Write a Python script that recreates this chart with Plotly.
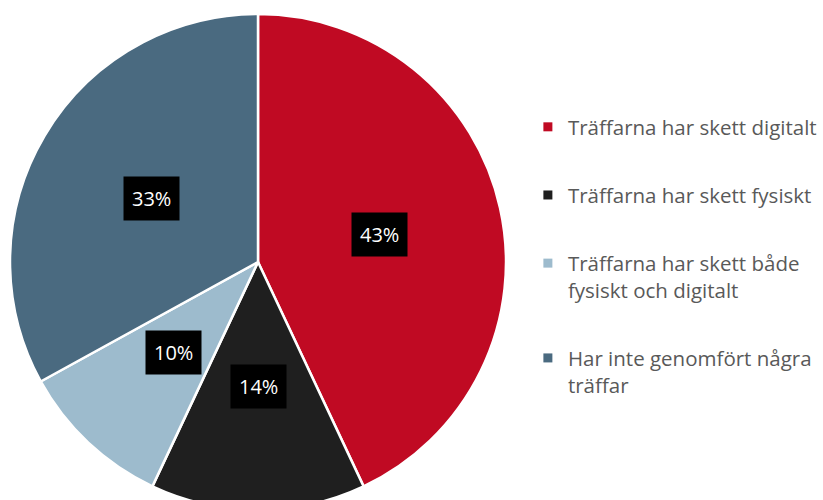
import math
import plotly.graph_objects as go

labels = [
    "Träffarna har skett digitalt",
    "Träffarna har skett fysiskt",
    "Träffarna har skett både<br>fysiskt och digitalt",
    "Har inte genomfört några<br>träffar",
]
values = [43, 14, 10, 33]
colors = ["#C00A23", "#1F1F1F", "#9DBBCD", "#4A6A80"]

W, H = 823, 510
ml, mr, mt, mb = 10, 0, 14, 0
plot_w = W - ml - mr
plot_h = H - mt - mb
dom_x = [0.0, 496 / plot_w]

fig = go.Figure()
fig.add_trace(go.Pie(
    labels=labels,
    values=values,
    sort=False,
    direction="clockwise",
    rotation=0,
    marker=dict(colors=colors, line=dict(color="white", width=2.5)),
    textinfo="none",
    hoverinfo="none",
    domain=dict(x=dom_x, y=[0, 1]),
    showlegend=False,
))

# legend entries (square markers), one group per category for spacing control
for i, (lab, col) in enumerate(zip(labels, colors)):
    fig.add_trace(go.Scatter(
        x=[None], y=[None], mode="markers", name=lab,
        legendgroup=f"g{i}",
        marker=dict(symbol="square", size=9, color=col),
        hoverinfo="skip",
    ))

# percent labels with black boxes, placed at mid-angle of each slice
total = sum(values)
cx_px = (dom_x[0] + dom_x[1]) / 2 * plot_w
cy_px = plot_h / 2
radius = min((dom_x[1] - dom_x[0]) * plot_w, plot_h) / 2
cum = 0
for v in values:
    mid = (cum + v / 2) / total * 2 * math.pi
    cum += v
    rr = 0.5 * radius
    px = cx_px + rr * math.sin(mid)
    py = cy_px - rr * math.cos(mid)
    fig.add_annotation(
        x=px / plot_w, y=1 - py / plot_h, xref="paper", yref="paper",
        xanchor="center", yanchor="middle",
        text=f"{round(v / total * 100)}%", showarrow=False,
        font=dict(family="Open Sans, Lato, sans-serif", size=20, color="white"),
        bgcolor="black", borderpad=8,
    )

fig.update_layout(
    width=W, height=H,
    margin=dict(l=ml, r=mr, t=mt, b=mb),
    paper_bgcolor="white", plot_bgcolor="white",
    xaxis=dict(visible=False), yaxis=dict(visible=False),
    legend=dict(
        x=0.637, xanchor="left", y=0.8125, yanchor="top",
        valign="top", tracegroupgap=38.5,
        font=dict(family="Open Sans, Lato, sans-serif", size=20.5, color="#595959"),
        itemclick=False, itemdoubleclick=False,
    ),
)

fig.write_html(
    "out.html",
    config={"displayModeBar": False},
    post_script="document.body.style.margin='0';document.body.style.overflow='hidden';",
)
